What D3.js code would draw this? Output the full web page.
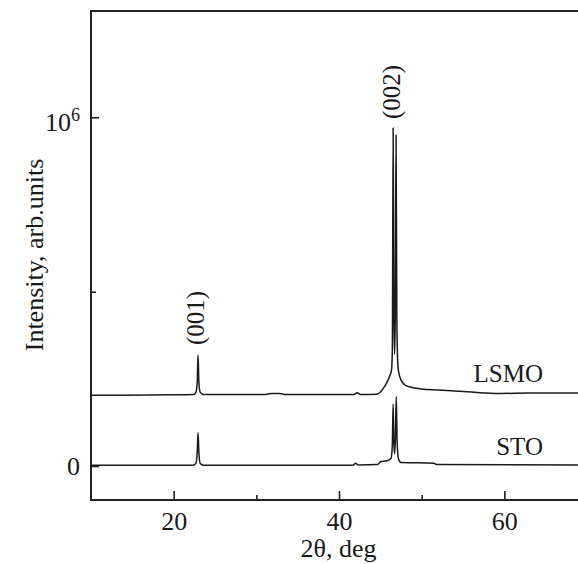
<!DOCTYPE html>
<html>
<head>
<meta charset="utf-8">
<script src="https://cdn.jsdelivr.net/npm/d3@7"></script>
<style>
  html, body { margin: 0; padding: 0; background: #fff; overflow: hidden; }
  text { font-family: "Liberation Serif", "Times New Roman", serif; fill: #1a1a1a; }
</style>
</head>
<body>
<div id="chart"></div>
<script>
"use strict";

// LSMO film on STO, 2theta scan (intensity in counts, LSMO curve shifted up)
const lsmoAngle = [10, 20, 22.4, 22.7, 22.85, 22.95, 23.05, 23.2, 23.6,
    31.0, 31.8, 32.8, 33.6, 41.8, 42.2, 42.6, 44.6, 45.0, 45.4, 45.8, 46.1, 46.35,
    46.45, 46.55, 46.65, 46.72, 46.8, 46.9, 47.0, 47.1, 47.2, 47.5, 48.0, 48.7,
    50, 52, 55.5, 59.5, 63, 70];
const lsmoIntensity = [203e3, 204e3, 205e3, 212e3, 240e3, 318e3, 240e3, 212e3, 205e3,
    205e3, 208e3, 208e3, 205e3, 205e3, 210e3, 205e3, 206e3, 212e3, 224e3, 240e3, 256e3, 275e3,
    330e3, 969e3, 420e3, 320e3, 420e3, 949e3, 420e3, 300e3, 272e3, 247e3, 232e3, 226e3,
    221e3, 218e3, 213e3, 208e3, 209e3, 209e3];

const stoAngle = [10, 22.4, 22.7, 22.85, 22.95, 23.05, 23.2, 23.6,
    41.7, 42.0, 42.3, 44.7, 45.0, 45.8, 46.3, 46.45, 46.55, 46.65, 46.73,
    46.82, 46.93, 47.03, 47.2, 47.5, 51.5, 51.8, 70];
const stoIntensity = [2e3, 2e3, 8e3, 40e3, 95e3, 40e3, 8e3, 2e3,
    2e3, 8e3, 3e3, 4e3, 12e3, 15e3, 22e3, 60e3, 178e3, 60e3, 35e3,
    80e3, 199e3, 70e3, 20e3, 10e3, 8e3, 4e3, 3e3];

const xMajorTicks = [20, 40, 60];
const xMinorTicks = [30, 50];
const yMajorTicks = [0, 1e6];
const yMinorTicks = [0.5e6];

const seriesNames = ["LSMO", "STO"];
const peakLabels = ["(001)", "(002)"];
const peakAngles = [23.0, 46.7];

const size = {
    width: 578,
    height: 564,
    left: 91,
    right: 587,
    top: 11,
    bottom: 500
};

let svgContainer = "";

window.onload = function () {
    svgContainer = d3.select("#chart")
        .append("svg")
        .attr("width", size.width)
        .attr("height", size.height);
    makeChart();
};

function makeChart() {
    let xScale = d3.scaleLinear()
        .domain([10, 70])
        .range([size.left, size.right]);

    let yScale = d3.scaleLinear()
        .domain([-97.5e3, 1304.8e3])
        .range([size.bottom, size.top]);

    drawAxes(xScale, yScale);

    let line = d3.line()
        .x(d => xScale(d[0]))
        .y(d => yScale(d[1]))
        .curve(d3.curveMonotoneX);

    let lsmo = lsmoAngle.map((a, i) => [a, lsmoIntensity[i]]);
    let sto = stoAngle.map((a, i) => [a, stoIntensity[i]]);

    svgContainer.selectAll(".curve")
        .data([lsmo, sto])
        .enter()
        .append("path")
        .attr("class", "curve")
        .attr("d", line)
        .attr("fill", "none")
        .attr("stroke", "#1a1a1a")
        .attr("stroke-width", 1.5)
        .attr("stroke-linejoin", "round");

    // series names, right aligned just above each curve
    svgContainer.append("text")
        .attr("x", 543)
        .attr("y", 382)
        .attr("text-anchor", "end")
        .style("font-size", "25px")
        .text(seriesNames[0]);

    svgContainer.append("text")
        .attr("x", 543)
        .attr("y", 455)
        .attr("text-anchor", "end")
        .style("font-size", "25px")
        .text(seriesNames[1]);

    // peak indices, rotated
    let peakLabelY = [318, 92];
    let peakLabelDx = [6, 6];
    peakLabels.forEach(function (lab, i) {
        svgContainer.append("text")
            .attr("transform", "translate(" + (xScale(peakAngles[i]) + peakLabelDx[i]) + "," + peakLabelY[i] + ") rotate(-90)")
            .attr("text-anchor", "middle")
            .style("font-size", "25px")
            .text(lab);
    });

    makeLabels();
}

function drawAxes(xScale, yScale) {
    // frame
    svgContainer.append("rect")
        .attr("x", size.left)
        .attr("y", size.top)
        .attr("width", size.right - size.left)
        .attr("height", size.bottom - size.top)
        .attr("fill", "none")
        .attr("stroke", "#222")
        .attr("stroke-width", 2);

    let xAxis = d3.axisBottom(xScale)
        .tickValues(xMajorTicks)
        .tickSize(-9)
        .tickFormat(d3.format("d"));
    let gx = svgContainer.append("g")
        .attr("transform", "translate(0," + size.bottom + ")")
        .call(xAxis);
    gx.select(".domain").remove();
    gx.selectAll("line").attr("stroke", "#222").attr("stroke-width", 1.6);
    gx.selectAll("text")
        .attr("y", 30)
        .attr("dy", null)
        .attr("fill", "#1a1a1a")
        .style("font-size", "26px")
        .style("font-family", "'Liberation Serif', 'Times New Roman', serif");

    let xMinor = d3.axisBottom(xScale)
        .tickValues(xMinorTicks)
        .tickSize(-5)
        .tickFormat("");
    let gxm = svgContainer.append("g")
        .attr("transform", "translate(0," + size.bottom + ")")
        .call(xMinor);
    gxm.select(".domain").remove();
    gxm.selectAll("line").attr("stroke", "#222").attr("stroke-width", 1.6);

    let yAxis = d3.axisLeft(yScale)
        .tickValues(yMajorTicks)
        .tickSize(-8)
        .tickPadding(11);
    let gy = svgContainer.append("g")
        .attr("transform", "translate(" + size.left + ",0)")
        .call(yAxis);
    gy.select(".domain").remove();
    gy.selectAll("line").attr("stroke", "#222").attr("stroke-width", 1.6);
    gy.selectAll("text")
        .attr("fill", "#1a1a1a")
        .style("font-size", "26px")
        .style("font-family", "'Liberation Serif', 'Times New Roman', serif")
        .each(function (d) {
            let t = d3.select(this);
            if (d === 0) {
                t.text("0").attr("dy", 8.5);
            } else {
                t.text("10").attr("dy", 13);
                t.append("tspan")
                    .attr("dy", -10)
                    .style("font-size", "18px")
                    .text("6");
            }
        });

    let yMinor = d3.axisLeft(yScale)
        .tickValues(yMinorTicks)
        .tickSize(-5)
        .tickFormat("");
    let gym = svgContainer.append("g")
        .attr("transform", "translate(" + size.left + ",0)")
        .call(yMinor);
    gym.select(".domain").remove();
    gym.selectAll("line").attr("stroke", "#222").attr("stroke-width", 1.6);
}

function makeLabels() {
    svgContainer.append("text")
        .attr("x", (size.left + 587) / 2 - 0.5)
        .attr("y", 557)
        .attr("text-anchor", "middle")
        .style("font-size", "26px")
        .text("2θ, deg");

    svgContainer.append("text")
        .attr("transform", "translate(43,255) rotate(-90)")
        .attr("text-anchor", "middle")
        .style("font-size", "26px")
        .text("Intensity, arb.units");
}
</script>
</body>
</html>
